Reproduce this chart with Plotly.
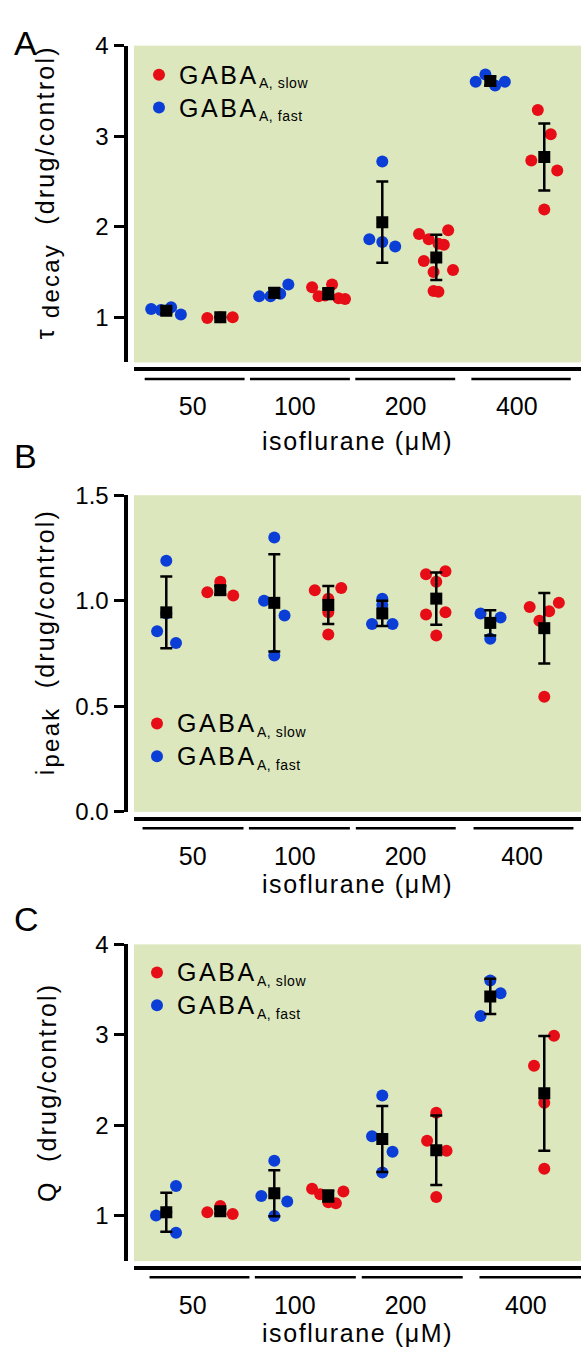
import numpy as np
import plotly.graph_objects as go

W, H = 581, 1355
conc_labels = ["50", "100", "200", "400"]

# ---------------- data (drug/control ratios) ----------------
# groups: 50, 100, 200, 400 uM isoflurane
# Panel A: tau decay
tau_fast = [[1.09, 1.08, 1.11, 1.03], [1.23, 1.23, 1.26, 1.36],
            [2.72, 1.86, 1.83, 1.78], [3.60, 3.68, 3.56, 3.60]]
tau_slow = [[0.99, 1.00, 1.00], [1.33, 1.23, 1.24, 1.36, 1.21, 1.20],
            [1.92, 1.86, 1.81, 1.80, 1.96, 1.62, 1.50, 1.52, 1.29, 1.28],
            [3.29, 3.02, 2.73, 2.62, 2.19]]
tau_mean = [1.07, 1.00, 1.27, 1.26, 2.05, 1.66, 3.61, 2.77]
tau_sd = [0.03, 0.0, 0.05, 0.06, 0.45, 0.25, 0.05, 0.37]

# Panel B: i peak
ipk_fast = [[1.19, 0.855, 0.80, 0.94], [1.30, 1.00, 0.93, 0.74],
            [1.01, 0.98, 0.89, 0.89], [0.94, 0.92, 0.82]]
ipk_slow = [[1.04, 1.09, 1.025], [1.05, 1.06, 1.01, 0.945, 0.84],
            [1.125, 1.14, 1.09, 0.935, 0.945, 0.835],
            [0.97, 0.95, 0.99, 0.905, 0.545]]
ipk_mean = [0.945, 1.05, 0.99, 0.98, 0.94, 1.01, 0.895, 0.87]
ipk_sd = [0.17, 0.02, 0.23, 0.09, 0.06, 0.124, 0.06, 0.167]

# Panel C: Q
q_fast = [[1.005, 1.33, 0.815, 1.04], [1.22, 1.61, 1.16, 1.00],
          [2.33, 1.88, 1.71, 1.48], [3.60, 3.46, 3.21]]
q_slow = [[1.04, 1.11, 1.02], [1.30, 1.24, 1.15, 1.14, 1.27],
          [2.14, 1.83, 1.72, 1.21], [2.99, 2.66, 2.25, 1.52]]
q_mean = [1.04, 1.05, 1.25, 1.22, 1.85, 1.725, 3.425, 2.355]
q_sd = [0.215, 0.03, 0.253, 0.06, 0.365, 0.383, 0.195, 0.634]

# ---------------- layout helpers (jitter, positions) ----------------
tau_fast_jit = [[-0.28, -0.10, 0.09, 0.27], [-0.28, -0.07, 0.11, 0.26],
                [0, -0.24, 0, 0.24], [-0.27, -0.09, 0.09, 0.27]]
tau_slow_jit = [[-0.24, 0, 0.23], [-0.30, -0.18, -0.06, 0.07, 0.19, 0.31],
                [-0.32, -0.14, 0.04, 0.14, 0.22, -0.23, -0.05, 0.31, -0.05, 0.04],
                [-0.12, 0.12, -0.24, 0.24, 0]]
ipk_fast_jit = [[0, -0.17, 0.18, 0], [0, -0.19, 0.19, 0],
                [0, 0, -0.19, 0.19], [-0.18, 0.19, 0]]
ipk_slow_jit = [[-0.24, 0, 0.24], [-0.25, 0.24, 0, 0, 0],
                [-0.19, 0.17, 0, -0.19, 0.17, 0], [-0.27, 0.09, 0.27, -0.09, 0]]
q_fast_jit = [[-0.19, 0.18, 0.18, 0], [-0.24, 0, 0.24, 0],
              [0, -0.19, 0.19, 0], [0, 0.19, -0.18]]
q_slow_jit = [[-0.24, 0, 0.23], [-0.30, -0.15, 0, 0.14, 0.28],
              [0, -0.17, 0.19, 0], [0.18, -0.19, 0, 0]]

RED = "#e60d17"
BLUE = "#0b3ed6"
GREEN_BG = "#dce7bd"
FONT = "Liberation Sans, Arial, sans-serif"


def py(p):
    return 1 - p / H


def flatten(groups, jits, offset):
    xs, ys = [], []
    for g, (vals, jit) in enumerate(zip(groups, jits)):
        xs += [2 * g + offset + j for j in jit]
        ys += list(vals)
    return xs, ys


def tracked(s, sp=2.4):
    return f'<span style="letter-spacing:{sp}px">{s}</span>'


def leg_name(kind):
    return ('<span style="font-size:25px;letter-spacing:2.6px">GABA</span>'
            f'<sub><span style="font-size:14px;letter-spacing:0.6px">A, {kind}</span></sub>')


panels = [
    dict(fast=tau_fast, slow=tau_slow, fj=tau_fast_jit, sj=tau_slow_jit,
         mean=tau_mean, sd=tau_sd, yr=[0.5, 4], dom=(355.5, 32.3),
         tv=[1, 2, 3, 4], tt=["1", "2", "3", "4"], xpos=362.3, seg_y=372.3,
         labx=[0.49, 2.38, 4.43, 6.49], tstand=12,
         segs=[(-0.40, 1.45), (1.55, 3.40), (3.50, 5.35), (5.65, 7.49)],
         leg=(139, 40), letter="A", let_y=30, title_y=182,
         title="τ\u00a0<sub><span style=\"font-size:24px\">decay</span></sub>\u00a0\u00a0(drug/control)"),
    dict(fast=ipk_fast, slow=ipk_slow, fj=ipk_fast_jit, sj=ipk_slow_jit,
         mean=ipk_mean, sd=ipk_sd, yr=[0, 1.5], dom=(814, 491),
         tv=[0, 0.5, 1.0, 1.5], tt=["0.0", "0.5", "1.0", "1.5"], xpos=821, seg_y=830.7,
         labx=[0.49, 2.38, 4.43, 6.59], tstand=4,
         segs=[(-0.44, 1.43), (1.53, 3.40), (3.51, 5.36), (5.69, 7.54)],
         leg=(137, 702), letter="B", let_y=451, title_y=641,
         title="i<sub><span style=\"font-size:24px\">peak</span></sub>\u00a0\u00a0(drug/control)"),
    dict(fast=q_fast, slow=q_slow, fj=q_fast_jit, sj=q_slow_jit,
         mean=q_mean, sd=q_sd, yr=[0.5, 4], dom=(1272.5, 949.3),
         tv=[1, 2, 3, 4], tt=["1", "2", "3", "4"], xpos=1279.3, seg_y=1289,
         labx=[0.49, 2.38, 4.43, 6.66], tstand=4,
         segs=[(-0.31, 1.54), (1.64, 3.51), (3.62, 5.49), (5.80, 7.68)],
         leg=(137, 956), letter="C", let_y=923, title_y=1101,
         title="Q\u00a0\u00a0(drug/control)"),
]

fig = go.Figure()
shapes, annotations = [], []
layout = {}
XDOM = [134 / W, 1.0]
XRANGE = [-0.598, 7.68]

for i, p in enumerate(panels):
    sfx = "" if i == 0 else str(i + 1)
    xa, ya = "x" + sfx, "y" + sfx
    legname = "legend" + sfx

    fx, fy = flatten(p["fast"], p["fj"], 0)
    sx, sy = flatten(p["slow"], p["sj"], 1)
    fig.add_trace(go.Scatter(x=fx, y=fy, mode="markers", xaxis=xa, yaxis=ya,
                             marker=dict(color=BLUE, size=12), name=leg_name("fast"),
                             legend=legname, legendrank=2, hoverinfo="skip"))
    fig.add_trace(go.Scatter(x=sx, y=sy, mode="markers", xaxis=xa, yaxis=ya,
                             marker=dict(color=RED, size=12), name=leg_name("slow"),
                             legend=legname, legendrank=1, hoverinfo="skip"))
    fig.add_trace(go.Scatter(x=list(range(len(p["mean"]))), y=p["mean"], mode="markers",
                             xaxis=xa, yaxis=ya, showlegend=False,
                             marker=dict(color="black", size=12, symbol="square"),
                             error_y=dict(type="data", array=p["sd"], visible=True,
                                          thickness=2.5, width=6, color="black")))

    layout["xaxis" + sfx] = dict(
        domain=XDOM, range=XRANGE, anchor="free", position=py(p["xpos"]),
        showline=True, linewidth=4, linecolor="black", showgrid=False, zeroline=False,
        ticks="", tickvals=p["labx"], ticktext=conc_labels,
        tickfont=dict(family=FONT, size=25, color="black"), ticklabelstandoff=14,
        title=dict(text=tracked("isoflurane (μM)", 1.6), standoff=p["tstand"],
                   font=dict(family=FONT, size=25, color="black")),
        fixedrange=True)
    layout["yaxis" + sfx] = dict(
        domain=[py(p["dom"][0]), py(p["dom"][1])], range=p["yr"], anchor="free",
        position=125.5 / W, showline=True, linewidth=4, linecolor="black",
        showgrid=False, zeroline=False, ticks="outside", ticklen=10, tickwidth=3,
        tickcolor="black", tickvals=p["tv"], ticktext=p["tt"],
        tickfont=dict(family=FONT, size=24, color="black"), fixedrange=True)

    layout[legname] = dict(x=p["leg"][0] / W, y=py(p["leg"][1]), xanchor="left", yanchor="top",
                           bgcolor="rgba(0,0,0,0)", borderwidth=0, tracegroupgap=0,
                           font=dict(family=FONT, size=23, color="black"))

    for (a, b) in p["segs"]:
        shapes.append(dict(type="line", xref=xa, yref="paper", x0=a, x1=b,
                           y0=py(p["seg_y"]), y1=py(p["seg_y"]),
                           line=dict(color="black", width=2.5)))

    annotations.append(dict(text=p["letter"], x=12 / W, y=py(p["let_y"]), xref="paper",
                            yref="paper", xanchor="left", yanchor="middle", showarrow=False,
                            font=dict(family=FONT, size=34, color="black")))
    annotations.append(dict(text=tracked(p["title"], 2.2), x=47 / W, y=py(p["title_y"]),
                            xref="paper", yref="paper", xanchor="center", yanchor="middle",
                            textangle=-90, showarrow=False,
                            font=dict(family=FONT, size=25, color="black")))

fig.update_layout(**layout)
fig.update_layout(width=W, height=H, autosize=False,
                  margin=dict(l=0, r=0, t=0, b=0),
                  paper_bgcolor="white", plot_bgcolor=GREEN_BG,
                  shapes=shapes, annotations=annotations, hovermode=False)
fig.write_html("out.html", config={"displayModeBar": False, "staticPlot": True},
               post_script="document.body.style.margin='0';document.body.style.overflow='hidden';")
